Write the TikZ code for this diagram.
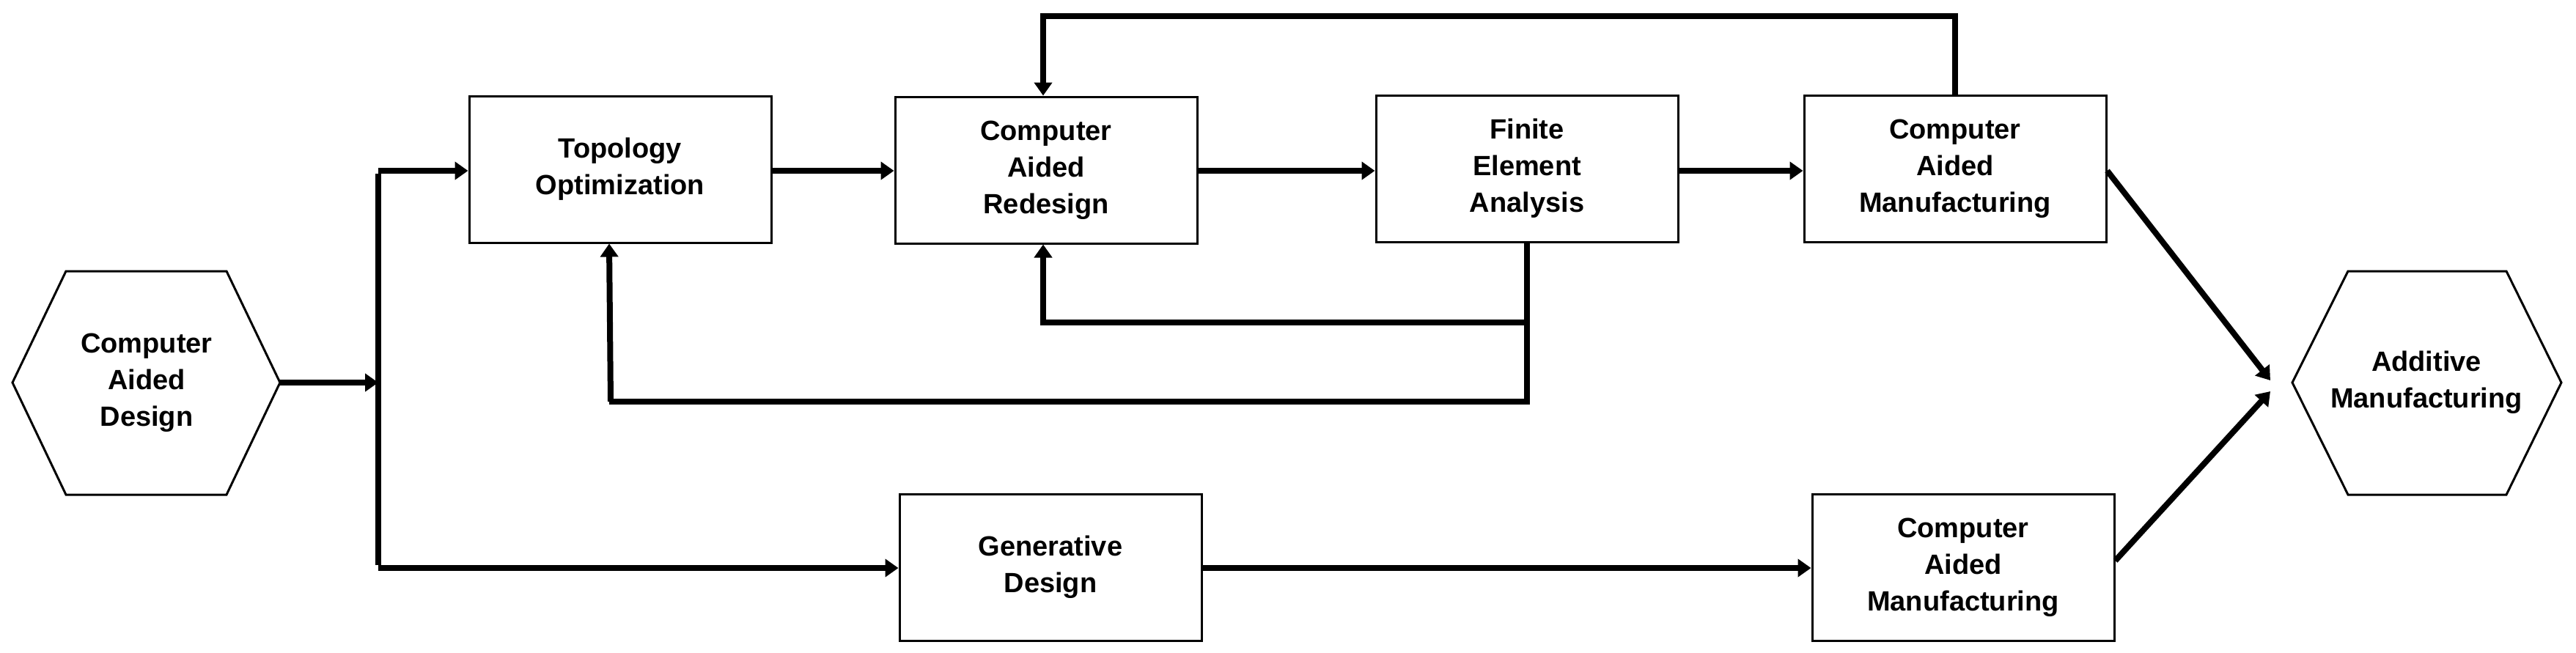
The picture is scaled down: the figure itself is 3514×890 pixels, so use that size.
\documentclass[tikz,border=0pt]{standalone}
\usepackage{fontspec}
\setmainfont{Liberation Sans}
\usetikzlibrary{arrows.meta}
\begin{document}
\begin{tikzpicture}[x=0.5pt,y=-0.5pt,
  box/.style={draw,line width=1.5pt,minimum width=206pt,minimum height=100pt,align=center,inner sep=0pt,font=\fontsize{19}{25}\selectfont\bfseries},
  txt/.style={align=center,inner sep=0pt,font=\fontsize{19}{25}\selectfont\bfseries},
  hex/.style={draw,line width=1.5pt,line join=miter},
  conn/.style={line width=4pt,-{Triangle[length=9pt,width=12pt]}},
  line/.style={line width=4pt}]
\useasboundingbox (0,0) rectangle (3514,890);
\draw[hex] (17,522)--(90,370)--(309,370)--(382,522)--(309,675)--(90,675)--cycle;
\node[txt] (cad) at (200,522) {Computer\\Aided\\Design};
\draw[hex] (3127,522)--(3203,370)--(3419,370)--(3494,522)--(3419,675)--(3203,675)--cycle;
\node[txt] (am) at (3310,522) {Additive\\Manufacturing};
\node[box] (to) at (846,231) {Topology\\Optimization};
\node[box] (car) at (1427,232) {Computer\\Aided\\Redesign};
\node[box] (fea) at (2083,230) {Finite\\Element\\Analysis};
\node[box] (cam1) at (2667,230) {Computer\\Aided\\Manufacturing};
\node[box] (gd) at (1433,774) {Generative\\Design};
\node[box] (cam2) at (2678,774) {Computer\\Aided\\Manufacturing};
\coordinate (cadR) at (382,522);
\coordinate (br) at (516,522);
\coordinate (brT) at (516,233);
\coordinate (brB) at (516,775);
\coordinate (amTL) at (3097,519);
\coordinate (amBL) at (3097,534);
\draw[conn] (cadR) -- (br);
\draw[line] ([yshift=-2pt]brT) -- ([yshift=2pt]brB);
\draw[conn] (brT) -- (to.west |- brT);
\draw[conn] (brB) -- (gd.west |- brB);
\draw[conn] (to.east |- brT) -- (car.west |- brT);
\draw[conn] (car.east |- brT) -- (fea.west |- brT);
\draw[conn] (fea.east |- brT) -- (cam1.west |- brT);
\draw[conn] (cam1.north) -- (2667,22) -- (1423,22) -- (car.north -| 1423,0);
\draw[line] (fea.south) -- (2083,548) -- (831,548);
\draw[conn] (833,548) -- (to.south -| 831,0);
\draw[conn] (2085,440) -- (1423,440) -- (car.south -| 1423,0);
\draw[conn] (gd.east |- brB) -- (cam2.west |- brB);
\draw[conn] (cam1.east |- brT) -- (amTL);
\draw[conn] ([yshift=4.5pt]cam2.east) -- (amBL);
\end{tikzpicture}
\end{document}
